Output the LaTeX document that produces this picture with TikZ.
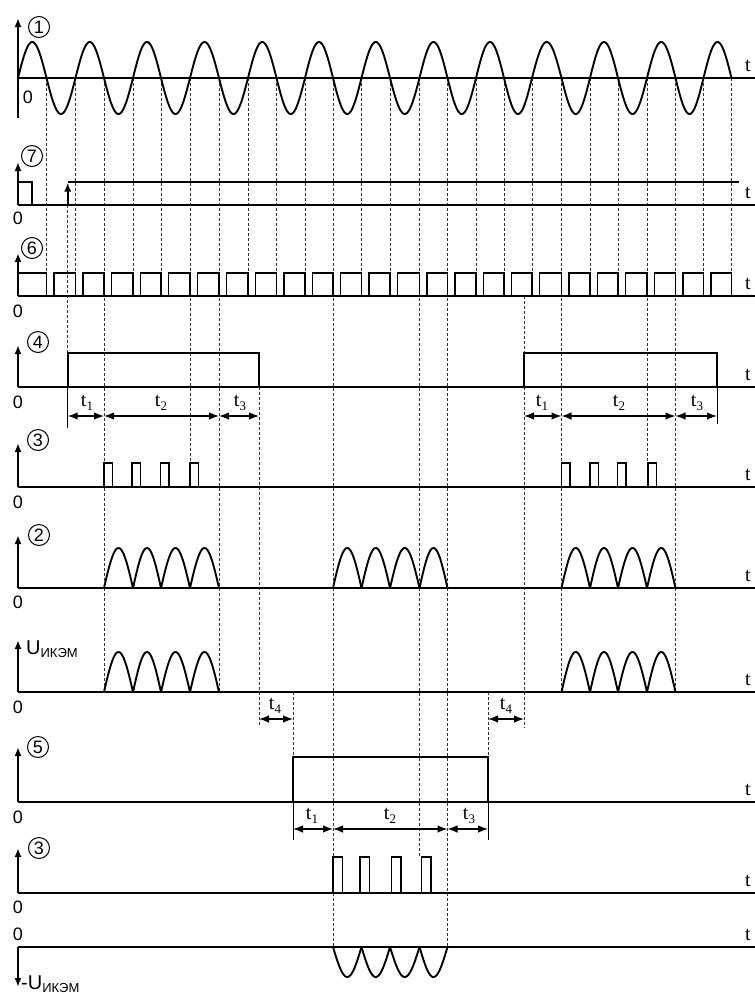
\documentclass[tikz,border=0pt]{standalone}
\usepackage{fontspec}
\setmainfont{Liberation Sans}
\newfontfamily\serifT{Liberation Serif}
\usetikzlibrary{arrows.meta}
\newcommand\xcross{18/46.5, 46.5/75.5, 75.5/104, 104/133, 133/161, 161/190, 190/219, 219/248, 248/276.5, 276.5/305, 305/333, 333/361.5, 361.5/390, 390/419.5, 419.5/447.5, 447.5/476, 476/504, 504/532, 532/561.5, 561.5/590, 590/618, 618/647, 647/675.5, 675.5/703.5, 703.5/731.5}
\newcommand\tlab[1]{{\serifT\fontsize{20}{20}\selectfont t\raisebox{-4pt}{\fontsize{13}{13}\selectfont #1}}}
\newcommand\zlab{\fontsize{18}{18}\selectfont 0}
\begin{document}
\begin{tikzpicture}[x=1pt,y=-1pt,
  ax/.style={line width=1.9pt},
  sig/.style={line width=1.9pt, line join=miter},
  dsh/.style={line width=0.7pt, dash pattern=on 3pt off 2pt, black!80},
  thin/.style={line width=0.7pt},
  dimarr/.style={line width=1.3pt, {Latex[length=10pt,width=7.5pt]}-{Latex[length=10pt,width=7.5pt]}},
  yarr/.style={line width=1.9pt, -{Latex[length=9pt,width=7pt]}},
  txt/.style={inner sep=0pt},
  circ/.style={circle, draw, line width=1pt, inner sep=0pt, minimum size=21pt, font=\fontsize{18}{18}\selectfont},
  tt/.style={inner sep=0pt, font=\serifT\fontsize{20}{20}\selectfont}]
\useasboundingbox (0,0) rectangle (755,994);
\fill[white] (0,0) rectangle (755,994);

% ---------- dashed guide lines from sine zero crossings ----------
\foreach \xx/\ye in {46.5/296,75.5/296,104/692,133/296,161/296,190/463,219/692,248/296,276.5/296,305/296,333/947,361.5/296,390/296,419.5/857,447.5/947,476/296,504/296,532/296,561.5/692,590/296,618/296,647/463,675.5/692,703.5/296,731.5/296}
  \draw[dsh] (\xx,78) -- (\xx,\ye);
% other dashed lines
\draw[dsh] (67.7,205) -- (67.7,353);
\draw[dsh] (259,387) -- (259,727);
\draw[dsh] (524,296) -- (524,353);
\draw[dsh] (524,387) -- (524,728);
\draw[dsh] (293,692) -- (293,757);
\draw[dsh] (488,692) -- (488,757);
% short extension lines
\draw[thin] (67.7,387) -- (67.7,428);
\draw[thin] (717,387) -- (717,424);
\draw[thin] (293,802) -- (293,840);
\draw[thin] (488,802) -- (488,840);

% ---------- axes ----------
\foreach \yy in {78,205,296,387,487,588,692,802,893,947}
  \draw[ax] (18,\yy) -- (755,\yy);
\draw[yarr] (18,118) -- (18,18);
\foreach \yy/\yt in {205/162,296/253,387/345,487/443,588/535,692/640,802/747,893/848}
  \draw[yarr] (18,\yy) -- (18,\yt);
\draw[yarr] (18,947) -- (18,987);

% ---------- row 1: sine ----------
\foreach \a/\b [count=\i from 0] in \xcross
  \draw[sig, line cap=round] plot[domain=\a:\b, samples=30] (\x, {78-36*sin(180*\i+180*(\x-\a)/(\b-\a))});

% ---------- row 7 ----------
\draw[sig] (18,205) |- (31.7,182) -- (31.7,205);
\draw[yarr] (67.7,205) -- (67.7,182.5);
\draw[sig] (67.7,182) -- (739,182);

% ---------- row 6: square wave ----------
\foreach \a/\b [count=\i from 0] in \xcross {
  \pgfmathsetmacro\st{\i==0 ? \a : \a+7.5}
  \draw[sig] (\st,296) |- (\b,273) -- (\b,296);
}

% ---------- row 4 ----------
\draw[sig] (67.7,387) |- (259,353) -- (259,387);
\draw[sig] (524,387) |- (717,353) -- (717,387);
\coordinate (d41a) at (67.7,416); \coordinate (d41b) at (104,416);
\coordinate (d42b) at (219,416); \coordinate (d43b) at (259,416);
\coordinate (e41a) at (524,416); \coordinate (e41b) at (561.5,416);
\coordinate (e42b) at (675.5,416); \coordinate (e43b) at (717,416);
\draw[dimarr] (d41a) -- (d41b);
\draw[dimarr] (d41b) -- (d42b);
\draw[dimarr] (d42b) -- (d43b);
\draw[dimarr] (e41a) -- (e41b);
\draw[dimarr] (e41b) -- (e42b);
\draw[dimarr] (e42b) -- (e43b);
\node[txt] (lt41) at (87,403) {\tlab{1}};
\node[txt] (lt42) at (161,403) {\tlab{2}};
\node[txt] (lt43) at (240,403) {\tlab{3}};
\node[txt] (rt41) at (542,403) {\tlab{1}};
\node[txt] (rt42) at (619,403) {\tlab{2}};
\node[txt] (rt43) at (697,403) {\tlab{3}};

% ---------- row 3a ----------
\foreach \a in {104,132,160.5,190,561.5,590,617.5,648}
  \draw[sig] (\a,487) |- (\a+8.5,463) -- (\a+8.5,487);

% ---------- row 2 ----------
\foreach \a/\b in {104/133,133/161,161/190,190/219,333/361.5,361.5/390,390/419.5,419.5/447.5,561.5/590,590/618,618/647,647/675.5}
  \draw[sig, line cap=round] plot[domain=\a:\b, samples=30] (\x, {588-40*sin(180*(\x-\a)/(\b-\a))});

% ---------- row U ----------
\foreach \a/\b in {104/133,133/161,161/190,190/219,561.5/590,590/618,618/647,647/675.5}
  \draw[sig, line cap=round] plot[domain=\a:\b, samples=30] (\x, {692-40*sin(180*(\x-\a)/(\b-\a))});
\coordinate (t4a) at (259,719); \coordinate (t4b) at (293,719);
\coordinate (t4c) at (488,719); \coordinate (t4d) at (524,719);
\draw[dimarr] (t4a) -- (t4b);
\draw[dimarr] (t4c) -- (t4d);
\node[txt] (lt4) at (275,706) {\tlab{4}};
\node[txt] (rt4) at (506,706) {\tlab{4}};

% ---------- row 5 ----------
\draw[sig] (293,802) |- (488,757) -- (488,802);
\coordinate (d51a) at (293,829); \coordinate (d51b) at (333,829);
\coordinate (d52b) at (447.5,829); \coordinate (d53b) at (488,829);
\draw[dimarr] (d51a) -- (d51b);
\draw[dimarr] (d51b) -- (d52b);
\draw[dimarr] (d52b) -- (d53b);
\node[txt] (lt51) at (312,816) {\tlab{1}};
\node[txt] (lt52) at (390,816) {\tlab{2}};
\node[txt] (lt53) at (469,816) {\tlab{3}};

% ---------- row 3b ----------
\foreach \a in {333,360,391.5,421.5}
  \draw[sig] (\a,893) |- (\a+9.5,857) -- (\a+9.5,893);

% ---------- bottom row ----------
\foreach \a/\b in {333/361.5,361.5/390,390/419.5,419.5/447.5}
  \draw[sig, line cap=round] plot[domain=\a:\b, samples=30] (\x, {947+30*sin(180*(\x-\a)/(\b-\a))});

% ---------- labels ----------
\node[circ] (c1) at (39,27) {1};
\node[circ] (c7) at (32,156) {7};
\node[circ] (c6) at (32,248) {6};
\node[circ] (c4) at (38,342) {4};
\node[circ] (c3a) at (38,440) {3};
\node[circ] (c2) at (39,535) {2};
\node[circ] (c5) at (38,747) {5};
\node[circ] (c3b) at (39,848) {3};

\node[txt] (z1) at (28,97) {\zlab};
\node[txt] (z7) at (18,218) {\zlab};
\node[txt] (z6) at (18,311) {\zlab};
\node[txt] (z4) at (18,402) {\zlab};
\node[txt] (z3a) at (18,502) {\zlab};
\node[txt] (z2) at (18,602) {\zlab};
\node[txt] (zu) at (18,707) {\zlab};
\node[txt] (z5) at (18,817) {\zlab};
\node[txt] (z3b) at (18,907) {\zlab};
\node[txt] (zb) at (18,934) {\zlab};

\foreach \yy [count=\j] in {78,205,296,387,487,588,692,802,893,947}
  \node[tt] (tl\j) at (748,\yy-12) {t};

\node[txt, anchor=west] (ul) at (26,649) {\fontsize{20}{20}\selectfont U\raisebox{-3pt}{\fontsize{13}{13}\selectfont ИКЭМ}};
\node[txt, anchor=west] (ulm) at (21,984) {\fontsize{20}{20}\selectfont -U\raisebox{-3pt}{\fontsize{13}{13}\selectfont ИКЭМ}};
\end{tikzpicture}
\end{document}
